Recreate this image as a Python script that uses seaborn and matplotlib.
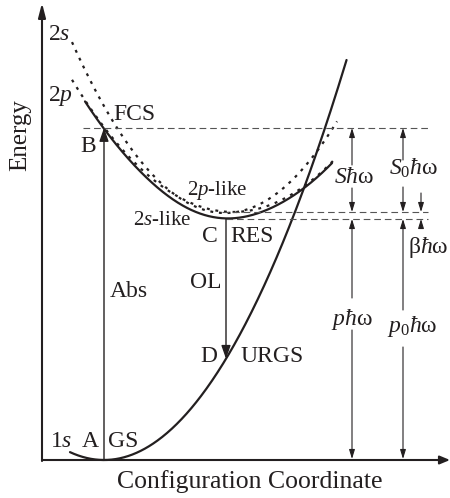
import numpy as np
import pandas as pd
import matplotlib
matplotlib.use("Agg")
import matplotlib.pyplot as plt
import seaborn as sns

# ---- potential curves (configuration coordinate Q, energy E, arbitrary units) ----
# parabola: E = e0 + k * (Q - q0)^2
ground = dict(q0=62, e0=0, k=0.0068)
diab_2p = dict(q0=191, e0=248, k=0.0051)
diab_2s = dict(q0=183, e0=247, k=0.0073)
coupling = 6.0                      # 2s-2p mixing that shapes the lower adiabatic state

ground_q_start = 28
ground_e_top = 400
diab_2p_range = (30, 293)
diab_2s_range = (30, 295)
adiab_range = (43, 290)

# ---- characteristic energies ----
E_FCS = 332          # Franck-Condon state (B)
E_2P_LIKE = 248      # bottom of the 2p-like curve
E_RES = 241          # relaxed excited state (C)
Q_ABS = 62           # absorption A -> B
Q_EMIT = 184         # emission C -> D

# columns of the energy-difference markers on the right
Q_COL_S = 310
Q_COL_S0 = 361
Q_COL_BETA = 379


def parabola(c, q):
    return c["e0"] + c["k"] * (q - c["q0"]) ** 2


def curve_frame(q, e):
    return pd.DataFrame({"Q": q, "E": e})


sns.set_theme(style="white")
plt.rcParams["font.family"] = ["Liberation Serif", "DejaVu Serif"]
plt.rcParams["mathtext.fontset"] = "custom"
plt.rcParams["mathtext.rm"] = "Liberation Serif"
plt.rcParams["mathtext.it"] = "Liberation Serif:italic"
plt.rcParams["mathtext.bf"] = "Liberation Serif:bold"

INK = "#231f20"

fig = plt.figure(figsize=(4.5, 4.98), dpi=100)
ax = fig.add_axes([0, 0, 1, 1])
ax.set_xlim(-42, 408)
ax.set_ylim(-38, 460)
ax.axis("off")

# ground state
q_g = np.linspace(ground_q_start,
                  ground["q0"] + np.sqrt((ground_e_top - ground["e0"]) / ground["k"]), 400)
sns.lineplot(data=curve_frame(q_g, parabola(ground, q_g)), x="Q", y="E", ax=ax,
             color=INK, lw=1.6, estimator=None, sort=False)

# diabatic 2p and 2s curves (dotted)
dot_style = dict(color=INK, lw=1.6, estimator=None, sort=False,
                 linestyle=(0, (1.3, 2.6)), dash_capstyle="butt")
q_p = np.linspace(*diab_2p_range, 400)
sns.lineplot(data=curve_frame(q_p, parabola(diab_2p, q_p)), x="Q", y="E", ax=ax, **dot_style)
q_s = np.linspace(*diab_2s_range, 400)
sns.lineplot(data=curve_frame(q_s, parabola(diab_2s, q_s)), x="Q", y="E", ax=ax, **dot_style)

# lower adiabatic (2s-like) state
q_a = np.linspace(*adiab_range, 400)
e_p = parabola(diab_2p, q_a)
e_s = parabola(diab_2s, q_a)
e_low = 0.5 * (e_p + e_s) - np.sqrt(0.25 * (e_p - e_s) ** 2 + coupling ** 2)
sns.lineplot(data=curve_frame(q_a, e_low), x="Q", y="E", ax=ax,
             color=INK, lw=1.6, estimator=None, sort=False)

# dashed energy levels
dash_kw = dict(color="#555555", lw=0.8, linestyle=(0, (6, 3.5)))
ax.plot([41, 386], [E_FCS, E_FCS], **dash_kw)
ax.plot([180, 386], [E_2P_LIKE, E_2P_LIKE], **dash_kw)
ax.plot([Q_EMIT, 386], [E_RES, E_RES], **dash_kw)


def arrow(start, end, lw=0.8, head=(0.55, 0.17)):
    ax.annotate("", xy=end, xytext=start,
                arrowprops=dict(arrowstyle=f"-|>,head_length={head[0]},head_width={head[1]}",
                                mutation_scale=10, lw=lw, color=INK,
                                shrinkA=0, shrinkB=0))


def vspan(q, e_from, e_to, **kw):
    arrow((q, e_from), (q, e_to), **kw)


# coordinate axes
vspan(0, 0, 457, lw=1.5, head=(0.85, 0.22))
arrow((0, 0), (408, 0), lw=1.5, head=(0.6, 0.25))
ax.plot([0, 0], [-1, 0], color=INK, lw=1.5)

# absorption and emission transitions
vspan(Q_ABS, 0, E_FCS, lw=1.0, head=(0.8, 0.28))
vspan(Q_EMIT, E_RES, parabola(ground, Q_EMIT), lw=1.0, head=(0.8, 0.28))

# S*hw and p*hw
vspan(Q_COL_S, 295, E_FCS)
vspan(Q_COL_S, 272, E_2P_LIKE)
vspan(Q_COL_S, 162, E_RES)
vspan(Q_COL_S, 130, 1)
# S0*hw and p0*hw
vspan(Q_COL_S0, 300, E_FCS)
vspan(Q_COL_S0, 273, E_2P_LIKE)
vspan(Q_COL_S0, 150, E_RES)
vspan(Q_COL_S0, 113, 1)
# beta*hw
vspan(Q_COL_BETA, 267, E_2P_LIKE)
vspan(Q_COL_BETA, 232, E_RES)

# labels
fs = 17
txt = dict(color=INK, fontsize=fs, va="baseline", ha="left")
ax.text(6, 420, "2$s$", **txt)
ax.text(6, 359, "2$p$", **txt)
ax.text(71, 340, "FCS", **txt)
ax.text(38, 308, "B", **txt)
ax.text(68, 163, "Abs", **txt)
ax.text(145, 265, "2$p$-like", color=INK, fontsize=15, va="baseline", ha="left")
ax.text(91, 235, "2$s$-like", color=INK, fontsize=15, va="baseline", ha="left")
ax.text(160, 218, "C", **txt)
ax.text(188, 218, "RES", **txt)
ax.text(148, 172, "OL", **txt)
ax.text(158, 98, "D", **txt)
ax.text(198, 98, "URGS", **txt)
ax.text(8, 13, "1$s$", **txt)
ax.text(40, 13, "A", **txt)
ax.text(66, 13, "GS", **txt)

ctr = dict(color=INK, fontsize=fs, va="baseline", ha="center")
ax.text(312, 277, r"$S\hbar\mathrm{\omega}$", **ctr)
ax.text(372, 285, r"$S_0\hbar\mathrm{\omega}$", **ctr)
ax.text(310, 135, r"$p\hbar\mathrm{\omega}$", **ctr)
ax.text(370, 128, r"$p_0\hbar\mathrm{\omega}$", **ctr)
ax.text(366, 207, r"$\mathrm{\beta}\hbar\mathrm{\omega}$", **txt)

ax.text(-22, 325, "Energy", color=INK, fontsize=18, rotation=90,
        ha="center", va="center")
ax.text(208, -28, "Configuration Coordinate", color=INK, fontsize=18.5,
        ha="center", va="baseline")

fig.savefig("out.png", dpi=100)
